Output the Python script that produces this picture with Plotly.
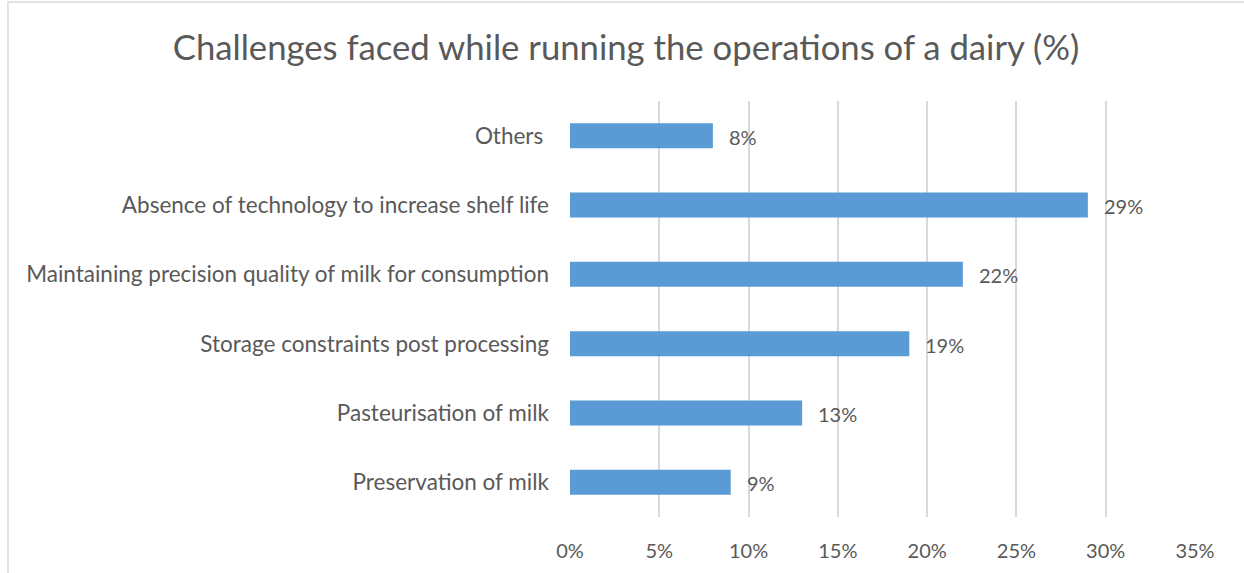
import plotly.graph_objects as go

# Survey results: share of dairies reporting each challenge
categories = [
    "Preservation of milk",
    "Pasteurisation of milk",
    "Storage constraints post processing",
    "Maintaining precision quality of milk for consumption",
    "Absence of technology to increase shelf life",
    "Others ",
]
shares = [9, 13, 19, 22, 29, 8]  # percent
x_ticks = [0, 5, 10, 15, 20, 25, 30, 35]
x_tick_labels = [f"{t}%" for t in x_ticks]

W, H = 1244, 573
ML, MR, MT, MB = 570, 49, 101, 56
FONT = "Lato"
TEXT = "#595959"
GRID = "#D9D9D9"
BAR = "#5B9BD5"

fig = go.Figure(
    go.Bar(
        y=categories,
        x=shares,
        orientation="h",
        marker=dict(color=BAR, line=dict(width=0)),
        width=0.36,
        hoverinfo="skip",
    )
)

# value labels just past each bar end
for cat, v in zip(categories, shares):
    fig.add_annotation(
        x=v, y=cat, xref="x", yref="y",
        text=f"{v}%", showarrow=False,
        xanchor="left", yanchor="middle", xshift=14, yshift=-1,
        font=dict(family=FONT, size=20, color=TEXT),
    )

# chart border (light grey frame)
pw, ph = W - ML - MR, H - MT - MB
def px_x(p):
    return (p - ML) / pw
def px_y(p):
    return 1 - (p - MT) / ph

fig.add_shape(
    type="rect", xref="paper", yref="paper",
    x0=px_x(8), x1=px_x(W + 5), y0=px_y(H + 5), y1=px_y(2),
    line=dict(color=GRID, width=1.5), fillcolor="rgba(0,0,0,0)", layer="below",
)

fig.update_layout(
    width=W, height=H,
    margin=dict(l=ML, r=MR, t=MT, b=MB),
    paper_bgcolor="white", plot_bgcolor="white",
    showlegend=False,
    title=dict(
        text="Challenges faced while running the operations of a dairy (%)",
        x=626 / W, xref="container", xanchor="center",
        y=1 - 48 / H, yanchor="middle",
        font=dict(family=FONT, size=34.7, color=TEXT),
    ),
    xaxis=dict(
        range=[0, 35],
        tickvals=x_ticks, ticktext=x_tick_labels,
        showgrid=True, gridcolor=GRID, gridwidth=1.5,
        zeroline=False, showline=False, ticks="",
        tickfont=dict(family=FONT, size=20, color=TEXT),
        ticklabelstandoff=20,
        fixedrange=True,
    ),
    yaxis=dict(
        categoryorder="array", categoryarray=categories,
        showgrid=False, zeroline=False, showline=False, ticks="",
        tickfont=dict(family=FONT, size=22.5, color=TEXT),
        ticklabelstandoff=20,
        fixedrange=True,
    ),
)

fig.write_html("out.html")
